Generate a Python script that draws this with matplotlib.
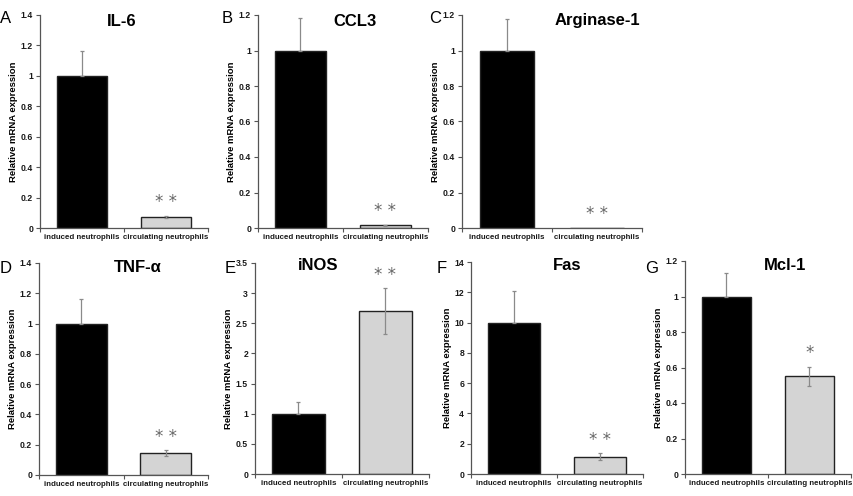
import matplotlib
matplotlib.use('Agg')
import matplotlib.pyplot as plt
from matplotlib.ticker import FixedLocator, FuncFormatter

plt.rcParams['font.family'] = ['Liberation Sans', 'DejaVu Sans']

W, H = 854, 496

genes = ['IL-6', 'CCL3', 'Arginase-1', 'TNF-α', 'iNOS', 'Fas', 'Mcl-1']
letters = ['A', 'B', 'C', 'D', 'E', 'F', 'G']
groups = ['induced neutrophils', 'circulating neutrophils']
induced = [1.0, 1.0, 1.0, 1.0, 1.0, 10.0, 1.0]
induced_err = [0.165, 0.185, 0.175, 0.165, 0.19, 2.1, 0.135]
circulating = [0.075, 0.015, 0.002, 0.145, 2.7, 1.15, 0.55]
circulating_err = [0.007, 0.004, 0.0, 0.02, 0.38, 0.25, 0.055]
y_max = [1.4, 1.2, 1.2, 1.4, 3.5, 14, 1.2]
y_step = [0.2, 0.2, 0.2, 0.2, 0.5, 2, 0.2]
stars = ['* *', '* *', '* *', '* *', '* *', '* *', '*']

# axes boxes in pixels: left, right, top, bottom
boxes = [(40, 208, 15, 228), (258, 428, 15, 228), (462, 642, 15, 228),
         (39, 208, 263, 475), (255, 429, 263, 474), (471, 643, 262, 474),
         (685, 851, 261, 474)]
# title centres and panel letter positions in pixels
title_xy = [(122, 22), (355, 22), (597, 20), (138, 268), (318, 265), (567, 265), (785, 266)]
letter_xy = [(0, 11), (222, 11), (429, 11), (0, 261), (225, 261), (437, 261), (645, 261)]

fig = plt.figure(figsize=(W / 100, H / 100), dpi=100)
axis_col = '#555555'
err_col = '#8a8a8a'

for i in range(7):
    x0, x1, yt, yb = boxes[i]
    ax = fig.add_axes([x0 / W, 1 - yb / H, (x1 - x0) / W, (yb - yt) / H])
    vals = [induced[i], circulating[i]]
    ax.bar([0, 1], vals, width=0.6, color=['black', '#d4d4d4'],
           edgecolor='#222222', linewidth=1.0, zorder=2)
    # induced: upper error only; circulating: both directions
    ax.errorbar(0, induced[i], yerr=[[0], [induced_err[i]]], fmt='none',
                ecolor=err_col, elinewidth=0.9, capsize=1.5, capthick=0.9, zorder=3)
    if circulating_err[i] > 0:
        ax.errorbar(1, circulating[i], yerr=circulating_err[i], fmt='none',
                    ecolor=err_col, elinewidth=0.9, capsize=1.5, capthick=0.9, zorder=3)
    ax.annotate(stars[i], (1, circulating[i] + circulating_err[i]),
                xytext=(0, 3), textcoords='offset points', ha='center', va='bottom',
                fontsize=12, color='#666666', family='DejaVu Sans')

    ax.set_xlim(-0.5, 1.5)
    ax.set_ylim(0, y_max[i])
    n = int(round(y_max[i] / y_step[i]))
    ticks = [k * y_step[i] for k in range(n + 1)]
    ax.yaxis.set_major_locator(FixedLocator(ticks))
    ax.yaxis.set_major_formatter(FuncFormatter(lambda v, p: f'{round(v, 3):g}'))
    ax.xaxis.set_major_locator(FixedLocator([-0.5, 0.5, 1.5]))
    ax.xaxis.set_major_formatter(FuncFormatter(lambda v, p: ''))
    ax.xaxis.set_minor_locator(FixedLocator([0, 1]))
    ax.xaxis.set_minor_formatter(FuncFormatter(lambda v, p: groups[int(round(v))]))
    ax.tick_params(axis='x', which='major', direction='out', length=3, color=axis_col, width=0.8)
    ax.tick_params(axis='x', which='minor', length=0, pad=4, labelsize=5.7)
    ax.tick_params(axis='y', direction='out', length=3, color=axis_col, width=0.8,
                   labelsize=6.2, pad=2)
    for lab in ax.get_xticklabels(minor=True) + ax.get_yticklabels():
        lab.set_fontweight('bold')
        lab.set_color('#1a1a1a')
    for s in ['top', 'right']:
        ax.spines[s].set_visible(False)
    for s in ['left', 'bottom']:
        ax.spines[s].set_color(axis_col)
        ax.spines[s].set_linewidth(0.9)
    ax.set_ylabel('Relative mRNA expression', fontsize=6.8, fontweight='bold', labelpad=2)

    tx, ty = title_xy[i]
    fig.text(tx / W, 1 - ty / H, genes[i], ha='center', va='center',
             fontsize=12, fontweight='bold')
    lx, ly = letter_xy[i]
    fig.text(lx / W, 1 - ly / H, letters[i], ha='left', va='top', fontsize=12)

fig.savefig('out.png', dpi=100)
